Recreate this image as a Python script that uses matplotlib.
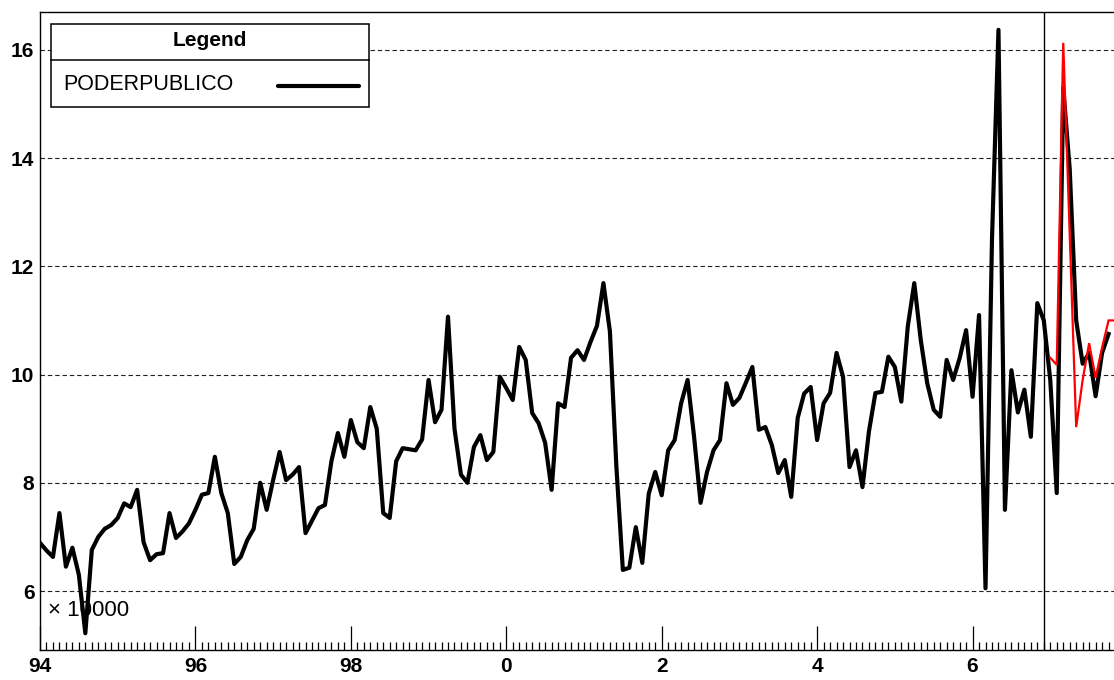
import numpy as np
import matplotlib
matplotlib.use("Agg")
import matplotlib.pyplot as plt
from matplotlib.patches import Rectangle
from matplotlib.lines import Line2D
from matplotlib.ticker import FixedLocator, MultipleLocator

plt.rcParams["font.family"] = ["Liberation Sans", "DejaVu Sans"]

# PODERPUBLICO, monthly, Jan 1994 .. Oct 2007 (units x 10000)
poderpublico = [
    6.89, 6.75, 6.63, 7.44, 6.45, 6.80, 6.30, 5.22, 6.76, 7.00, 7.15, 7.22,   # 1994
    7.35, 7.62, 7.55, 7.87, 6.90, 6.57, 6.68, 6.70, 7.44, 6.98, 7.10, 7.25,   # 1995
    7.50, 7.78, 7.81, 8.48, 7.81, 7.44, 6.50, 6.63, 6.94, 7.15, 8.00, 7.50,   # 1996
    8.05, 8.57, 8.05, 8.15, 8.29, 7.07, 7.30, 7.53, 7.59, 8.40, 8.92, 8.48,   # 1997
    9.16, 8.75, 8.64, 9.40, 9.00, 7.44, 7.35, 8.40, 8.64, 8.62, 8.60, 8.80,   # 1998
    9.90, 9.12, 9.35, 11.07, 9.00, 8.15, 8.00, 8.66, 8.88, 8.42, 8.57, 9.96,  # 1999
    9.75, 9.53, 10.51, 10.27, 9.29, 9.10, 8.74, 7.87, 9.47, 9.40, 10.31, 10.45,  # 2000
    10.27, 10.60, 10.90, 11.69, 10.80, 8.30, 6.39, 6.43, 7.18, 6.52, 7.80, 8.20,  # 2001
    7.77, 8.60, 8.79, 9.47, 9.90, 8.85, 7.63, 8.20, 8.60, 8.79, 9.84, 9.44,   # 2002
    9.57, 9.85, 10.14, 8.98, 9.03, 8.70, 8.18, 8.42, 7.74, 9.20, 9.65, 9.77,  # 2003
    8.79, 9.47, 9.66, 10.40, 9.96, 8.29, 8.60, 7.92, 8.95, 9.66, 9.68, 10.33,  # 2004
    10.14, 9.50, 10.89, 11.69, 10.64, 9.84, 9.35, 9.22, 10.27, 9.90, 10.30, 10.82,  # 2005
    9.59, 11.10, 6.05, 12.50, 16.37, 7.50, 10.08, 9.30, 9.72, 8.85, 11.32, 11.00,  # 2006
    9.90, 7.81, 15.30, 13.80, 11.00, 10.20, 10.40, 9.60, 10.40, 10.75,  # 2007
]

# forecast, Jan 2007 .. Nov 2007
forecast = [10.31, 10.18, 16.13, 12.60, 9.03, 9.90, 10.58, 9.94, 10.50, 11.00, 11.00]

start_year = 1994
forecast_start = 156      # months after Jan 1994
cutoff_month = 155        # Dec 2006
year_ticks = [1994, 1996, 1998, 2000, 2002, 2004, 2006]
year_labels = ["94", "96", "98", "0", "2", "4", "6"]
y_ticks = [6, 8, 10, 12, 14, 16]

W, H = 1114, 680


def fx(px):
    return px / W


def fy(py):
    return 1 - py / H


fig = plt.figure(figsize=(W / 100, H / 100), dpi=100)
ax = fig.add_axes([fx(40), fy(650), fx(1114) - fx(40), fy(12) - fy(650)])

x_actual = start_year + np.arange(len(poderpublico)) / 12
x_fc = start_year + (forecast_start + np.arange(len(forecast))) / 12

ax.plot(x_actual, poderpublico, color="black", lw=3.0, solid_joinstyle="round", zorder=3)
ax.plot(x_fc, forecast, color="#ff0000", lw=1.6, solid_joinstyle="miter", zorder=4)
ax.axvline(start_year + cutoff_month / 12, color="black", lw=1.0, zorder=2)

ax.set_xlim(1994, 2007.82)
ax.set_ylim(4.91, 16.70)

# grid
ax.set_yticks(y_ticks)
ax.yaxis.grid(True, linestyle=(0, (4.0, 2.6)), color="#222222", lw=0.8, zorder=1)
ax.set_axisbelow(True)

# ticks
ax.set_xticks(year_ticks)
ax.set_xticklabels(year_labels, fontweight="bold")
ax.xaxis.set_minor_locator(MultipleLocator(1 / 12))
ax.tick_params(axis="x", which="major", direction="in", length=17, width=0.9,
               pad=5, labelsize=15)
ax.tick_params(axis="x", which="minor", direction="in", length=6, width=0.9)
ax.tick_params(axis="y", length=0, pad=4, labelsize=15)
for lbl in ax.get_yticklabels():
    lbl.set_fontweight("bold")

ax.spines["right"].set_visible(False)
for s in ["left", "bottom", "top"]:
    ax.spines[s].set_linewidth(1.0)

# scale note
ax.text(fx(48), fy(611), "\u00d7 10000", transform=fig.transFigure, fontsize=16,
        va="center", ha="left", zorder=2)

# legend box
box = Rectangle((fx(51), fy(107)), fx(369) - fx(51), fy(24) - fy(107),
                transform=fig.transFigure, facecolor="white", edgecolor="black",
                lw=1.1, zorder=10)
fig.add_artist(box)
fig.add_artist(Line2D([fx(51), fx(369)], [fy(60), fy(60)], transform=fig.transFigure,
                      color="black", lw=1.1, zorder=11))
fig.text(fx(210), fy(41), "Legend", fontsize=15, fontweight="bold",
         ha="center", va="center", zorder=11)
fig.text(fx(63), fy(85), "PODERPUBLICO", fontsize=15.5, ha="left", va="center", zorder=11)
fig.add_artist(Line2D([fx(278), fx(359)], [fy(86), fy(86)], transform=fig.transFigure,
                      color="black", lw=3.0, solid_capstyle="round", zorder=11))

fig.savefig("out.png", dpi=100)
